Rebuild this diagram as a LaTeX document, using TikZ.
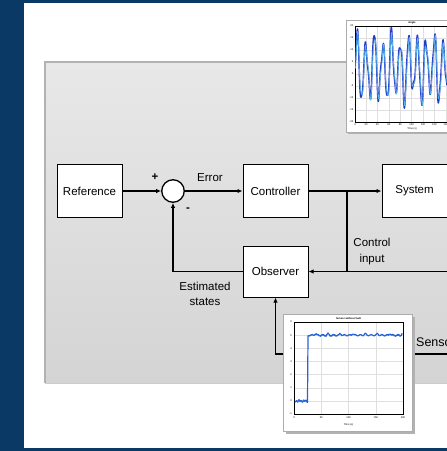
\documentclass[tikz,border=0pt]{standalone}
\usepackage{fontspec}
\setmainfont{Liberation Sans}
\usetikzlibrary{arrows.meta}
\definecolor{bgblue}{RGB}{10,57,102}
\definecolor{sigdark}{RGB}{35,60,200}
\definecolor{siglight}{RGB}{90,180,235}
\definecolor{sigstep}{RGB}{40,100,215}
\tikzset{
  blk/.style={draw, fill=white, line width=1pt, minimum width=65pt, minimum height=53pt,
    inner sep=0pt, font=\fontsize{11.5}{13}\selectfont},
  sumc/.style={circle, draw, fill=white, line width=1.3pt, minimum size=22.5pt, inner sep=0pt},
  lbl/.style={inner sep=0pt, font=\fontsize{11.5}{15.5}\selectfont},
  conn/.style={line width=1.4pt, -{Latex[length=5pt,width=4.5pt]}},
  wire/.style={line width=1.4pt},
  tiny/.style={inner sep=0pt, font=\fontsize{2.6}{3}\selectfont},
  pframe/.style={draw=gray!65, fill=white, line width=0.8pt},
  pshadow/.style={fill=black!30},
  grd/.style={gray!25, line width=0.3pt},
  axs/.style={black, line width=0.3pt}
}
\begin{document}
\begin{tikzpicture}[x=1pt,y=-1pt]
\useasboundingbox (0,0) rectangle (447,451);
\clip (0,0) rectangle (447,451);
% backgrounds
\fill[bgblue] (0,0) rectangle (447,451);
\fill[white] (24,3) rectangle (460,448);
\shade[top color={rgb,255:red,232;green,232;blue,232}, bottom color={rgb,255:red,212;green,212;blue,212}] (45,62) rectangle (460,383);
\draw[gray!60, line width=1.1pt] (45,383) -- (45,62) -- (460,62);
\draw[gray!40, line width=0.8pt] (45,383) -- (460,383);

% blocks
\node[blk] (ref) at (89.5,191) {Reference};
\node[sumc] (sum) at (173,191) {};
\node[blk] (ctrl) at (275.5,191) {Controller};
\node[blk] (sys) at (414.5,191) {System};
\node[blk, minimum height=51pt] (obs) at (275.5,271.5) {Observer};

% connectors
\coordinate (br) at (347,191);
\coordinate (ci) at (347,271.5);
\coordinate (inR) at (448,271.5);
\coordinate (sen) at (448,354);
\draw[conn] (ref.east) -- (sum.west);
\draw[conn] (sum.east) -- (ctrl.west);
\draw[conn] (ctrl.east) -- (sys.west);
\draw[wire] (br) -- (ci);
\draw[conn] (inR) -- (obs.east);
\draw[conn] (obs.west) -| (sum.south);
\draw[conn] (sen) -| (obs.south);

% labels
\node[lbl, font=\bfseries\fontsize{11.5}{13}\selectfont] (lplus) at (155,177) {+};
\node[lbl, font=\bfseries\fontsize{11.5}{13}\selectfont] (lminus) at (188,210) {-};
\node[lbl] (lerr) at (210,178) {Error};
\node[lbl, align=center] (lest) at (205,294) {Estimated\\states};
\node[lbl, align=center] (lci) at (372,251.5) {Control\\input};
\node[lbl, anchor=west, font=\fontsize{12.5}{14}\selectfont] (lsen) at (416,342) {Sensor};

% ---------- top plot ----------
\fill[pshadow] (348,22) rectangle (460,134);
\draw[pframe] (346,20) rectangle (460,132);
\foreach \gx in {366,377.4,388.8,400.2,411.6,423,434.4,445.8} \draw[grd] (\gx,26) -- (\gx,122);
\foreach \gy in {38,50,62,74,86,98,110} \draw[grd] (355,\gy) -- (460,\gy);
\draw[axs] (355,26) rectangle (460,122);
\begin{scope}
\clip (355,26) rectangle (460,122);
\draw[sigdark, line width=1.4pt, line join=round] plot[domain=355.5:447, samples=420, smooth]
  (\x, {68 - (29+8*sin(23*(\x-355)))*sin(41.86*(\x-355)) + 5*sin(97*(\x-355))});
\draw[siglight, line width=0.7pt, line join=round] plot[domain=355.5:447, samples=420, smooth]
  (\x, {69 - (27+7*sin(23*(\x-355)))*sin(41.86*(\x-355)-12) + 5*sin(97*(\x-355))});
\end{scope}
\node[tiny, font=\bfseries\fontsize{2.6}{3}\selectfont] (ttl1) at (412,23.2) {Angle};
\node[tiny] (xl1) at (412,128.5) {Time (s)};
\foreach \v/\gx [count=\i] in {0/355,20/366,40/377.4,60/388.8,80/400.2,100/411.6,120/423,140/434.4,160/445.8}
  \node[tiny] (tx\i) at (\gx,124.8) {\v};
\foreach \v/\gy [count=\i] in {20/26,15/38,10/50,5/62,0/74,-5/86,-10/98,-15/110,-20/122}
  \node[tiny, anchor=east] (ty\i) at (353.5,\gy) {\v};

% ---------- bottom plot ----------
\fill[pshadow] (285.5,316.5) rectangle (414.5,433.5);
\draw[pframe] (283,314) rectangle (412,431);
\foreach \gx in {321.25,348.5,375.75} \draw[grd] (\gx,322) -- (\gx,414);
\foreach \k in {1,...,6} \draw[grd] (294,{322+13.143*\k}) -- (403,{322+13.143*\k});
\draw[axs] (294,322) rectangle (403,414);
\draw[sigstep, line width=1.2pt, line join=round]
  plot[domain=295:307.5, samples=30] (\x, {401 + 0.9*sin(151*(\x-290)) + 0.5*sin(67*(\x-290))})
  -- (308,336)
  -- plot[domain=308.5:402.5, samples=160] (\x, {335.8 - 0.9*abs(sin(151*(\x-300))) - 0.6*sin(67*(\x-300)) - 1.2*max(0,sin(29*(\x-300))-0.7)*4});
\node[tiny, font=\bfseries\fontsize{2.6}{3}\selectfont] (ttl2) at (348.5,318.3) {Sensor without fault};
\node[tiny] (xl2) at (348.5,424.5) {Time (s)};
\foreach \v/\gx [count=\i] in {0/294,50/321.25,100/348.5,150/375.75,200/403}
  \node[tiny] (bx\i) at (\gx,417.8) {\v};
\foreach \v [count=\i from 0] in {6,5,4,3,2,1,0,-1}
  \node[tiny, anchor=east] (by\i) at (292,{322+13.143*\i}) {\v};
\end{tikzpicture}
\end{document}
